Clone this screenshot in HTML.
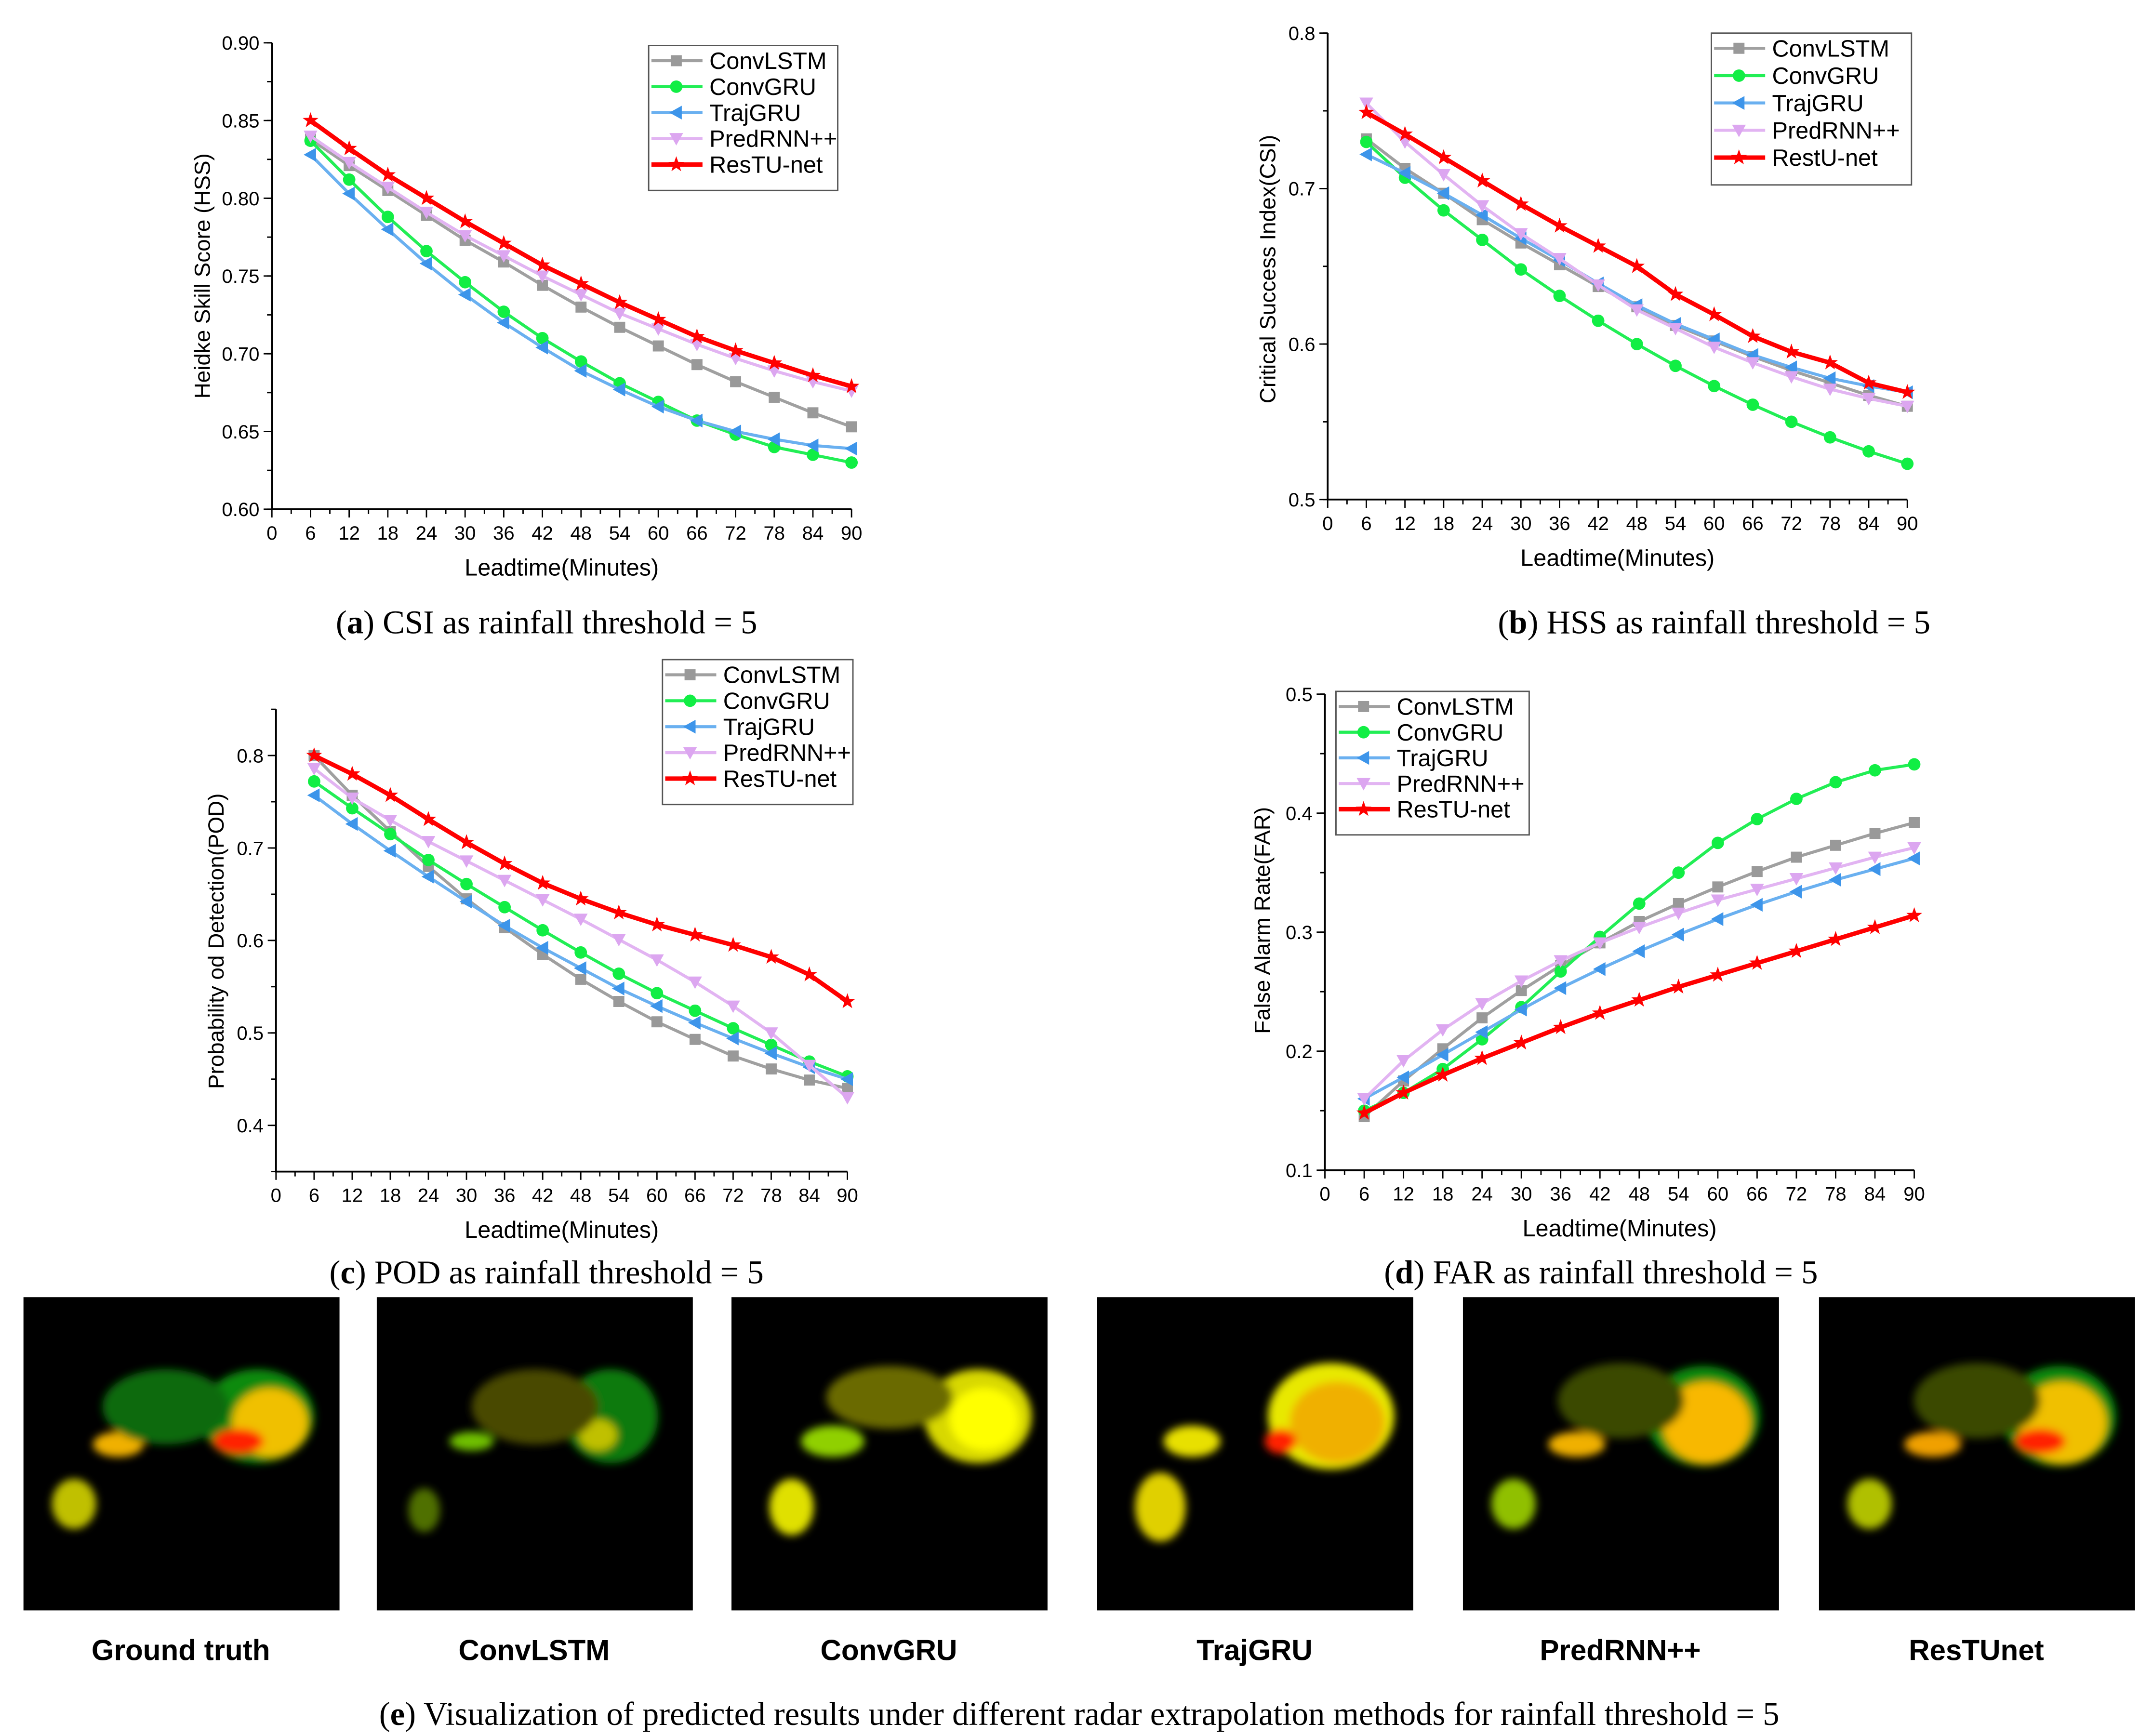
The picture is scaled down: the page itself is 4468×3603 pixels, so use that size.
<!DOCTYPE html>
<html><head><meta charset="utf-8"><style>
html,body{margin:0;padding:0;background:#fff}
svg{display:block}
</style></head><body>
<svg id="fig" width="4468" height="3603" viewBox="0 0 1560 1258" preserveAspectRatio="none" xmlns="http://www.w3.org/2000/svg">
<defs>
<filter id="blur" x="-50%" y="-50%" width="200%" height="200%"><feGaussianBlur stdDeviation="3"/></filter>
</defs>
<rect x="0" y="0" width="1560" height="1258" fill="#fff"/>
</svg>
<script>
const xMinutes=[6,12,18,24,30,36,42,48,54,60,66,72,78,84,90];
const xTickLabels=['0','6','12','18','24','30','36','42','48','54','60','66','72','78','84','90'];
const seriesNamesA=['ConvLSTM','ConvGRU','TrajGRU','PredRNN++','ResTU-net'];
const seriesNamesB=['ConvLSTM','ConvGRU','TrajGRU','PredRNN++','RestU-net'];
const hssConvLSTM=[0.838,0.821,0.805,0.789,0.773,0.759,0.744,0.730,0.717,0.705,0.693,0.682,0.672,0.662,0.653];
const hssConvGRU=[0.837,0.812,0.788,0.766,0.746,0.727,0.710,0.695,0.681,0.669,0.657,0.648,0.640,0.635,0.630];
const hssTrajGRU=[0.828,0.803,0.780,0.758,0.738,0.720,0.704,0.689,0.677,0.666,0.657,0.650,0.645,0.641,0.639];
const hssPredRNN=[0.840,0.823,0.807,0.791,0.776,0.763,0.750,0.738,0.726,0.716,0.706,0.697,0.689,0.682,0.676];
const hssResTU=[0.850,0.832,0.815,0.800,0.785,0.771,0.757,0.745,0.733,0.722,0.711,0.702,0.694,0.686,0.679];
const csiConvLSTM=[0.732,0.713,0.697,0.680,0.665,0.651,0.637,0.624,0.612,0.602,0.592,0.583,0.575,0.567,0.560];
const csiConvGRU=[0.730,0.707,0.686,0.667,0.648,0.631,0.615,0.600,0.586,0.573,0.561,0.550,0.540,0.531,0.523];
const csiTrajGRU=[0.722,0.710,0.697,0.683,0.668,0.654,0.639,0.625,0.613,0.603,0.593,0.585,0.578,0.573,0.569];
const csiPredRNN=[0.755,0.730,0.709,0.689,0.671,0.655,0.638,0.622,0.610,0.598,0.588,0.579,0.571,0.565,0.560];
const csiResTU=[0.749,0.735,0.720,0.705,0.690,0.676,0.663,0.650,0.632,0.619,0.605,0.595,0.588,0.575,0.569];
const podConvLSTM=[0.800,0.757,0.718,0.680,0.645,0.614,0.585,0.558,0.534,0.512,0.493,0.475,0.461,0.449,0.440];
const podConvGRU=[0.772,0.743,0.715,0.687,0.661,0.636,0.611,0.587,0.564,0.543,0.524,0.505,0.487,0.469,0.453];
const podTrajGRU=[0.757,0.726,0.697,0.669,0.642,0.616,0.592,0.570,0.548,0.529,0.511,0.494,0.478,0.463,0.450];
const podPredRNN=[0.786,0.754,0.730,0.707,0.686,0.665,0.644,0.623,0.601,0.579,0.555,0.529,0.500,0.465,0.430];
const podResTU=[0.800,0.780,0.757,0.731,0.706,0.683,0.662,0.645,0.630,0.617,0.606,0.595,0.582,0.563,0.534];
const farConvLSTM=[0.145,0.175,0.202,0.228,0.251,0.272,0.291,0.309,0.324,0.338,0.351,0.363,0.373,0.383,0.392];
const farConvGRU=[0.150,0.165,0.185,0.210,0.237,0.267,0.296,0.324,0.350,0.375,0.395,0.412,0.426,0.436,0.441];
const farTrajGRU=[0.160,0.178,0.197,0.216,0.235,0.253,0.269,0.284,0.298,0.311,0.323,0.334,0.344,0.353,0.362];
const farPredRNN=[0.160,0.192,0.218,0.240,0.259,0.276,0.291,0.304,0.316,0.327,0.336,0.345,0.354,0.363,0.371];
const farResTU=[0.148,0.165,0.180,0.194,0.207,0.220,0.232,0.243,0.254,0.264,0.274,0.284,0.294,0.304,0.314];
const hssTicks=['0.60','0.65','0.70','0.75','0.80','0.85','0.90'];
const csiTicks=['0.5','0.6','0.7','0.8'];
const podTicks=['0.4','0.5','0.6','0.7','0.8'];
const farTicks=['0.1','0.2','0.3','0.4','0.5'];

const NS='http://www.w3.org/2000/svg';
const svg=document.getElementById('fig');
function mk(tag,attrs,parent){const e=document.createElementNS(NS,tag);for(const k in attrs)e.setAttribute(k,attrs[k]);(parent||svg).appendChild(e);return e;}
const NF='Liberation Sans Narrow, Liberation Sans, sans-serif';
const styles=[
 {c:'#a0a0a0',m:'#999999',mk:'square',w:2.2},
 {c:'#22ee55',m:'#11ee44',mk:'circle',w:2.2},
 {c:'#6ab0f0',m:'#3d95ea',mk:'left',w:2.2},
 {c:'#e2b4f2',m:'#dca6f0',mk:'down',w:2.2},
 {c:'#ff0000',m:'#ff0000',mk:'star',w:3.2}];
function marker(g,type,x,y,col){
 let e;
 if(type==='square')e=mk('rect',{x:x-4,y:y-4,width:8,height:8,fill:col},g);
 else if(type==='circle')e=mk('circle',{cx:x,cy:y,r:4.5,fill:col},g);
 else if(type==='left')e=mk('polygon',{points:`${x-5},${y} ${x+4},${y-5} ${x+4},${y+5}`,fill:col},g);
 else if(type==='down')e=mk('polygon',{points:`${x-5},${y-4} ${x+5},${y-4} ${x},${y+5}`,fill:col},g);
 else {let p=[];for(let i=0;i<10;i++){const r=i%2?2.4:6;const a=-Math.PI/2+i*Math.PI/5;p.push((x+r*Math.cos(a)).toFixed(2)+','+(y+r*Math.sin(a)).toFixed(2));}
  e=mk('polygon',{points:p.join(' '),fill:col},g);}
 
 
}
function chart(o){
 const g=mk('g',{});
 
 
 const xs=v=>o.x0+(v/90)*(o.x1-o.x0);
 const ys=v=>o.yb-(v-o.vmin)/(o.vmax-o.vmin)*(o.yb-o.yt);
 const ax=mk('path',{d:`M${o.x0},${o.yt} V${o.yb} H${o.x1}`,stroke:'#000','stroke-width':1.3,fill:'none'},g);
 
 
 for(let i=0;i<=30;i++){const v=i*3;const major=i%2===0;
  mk('line',{x1:xs(v),x2:xs(v),y1:o.yb,y2:o.yb+(major?6:3.5),stroke:'#000','stroke-width':1},g);}
 xTickLabels.forEach((t,i)=>{const tx=mk('text',{x:xs(i*6),y:o.yb+22,'font-size':14,'text-anchor':'middle','font-family':NF},g);tx.textContent=t;
  
  });
 // minor y ticks
 for(let v=o.t0-o.step/2;v<=o.vmax+1e-9;v+=o.step/2){if(v<o.vmin-1e-9)continue;const y=ys(v);
  mk('line',{x1:o.x0-3.5,x2:o.x0,y1:y,y2:y,stroke:'#000','stroke-width':1},g);}
 o.ticks.forEach((t,i)=>{const v=o.t0+i*o.step;const y=ys(v);
  mk('line',{x1:o.x0-6,x2:o.x0,y1:y,y2:y,stroke:'#000','stroke-width':1},g);
  const tx=mk('text',{x:o.x0-9,y:y+5,'font-size':14,'text-anchor':'end','font-family':NF},g);tx.textContent=t;
  
  
 });
 o.series.forEach((arr,si)=>{const s=styles[si];
  const sg=mk('g',{},g);
  
  
  const d=arr.map((v,i)=>(i?'L':'M')+xs(xMinutes[i]).toFixed(2)+','+ys(v).toFixed(2)).join(' ');
  mk('path',{d:d,stroke:s.c,'stroke-width':s.w,fill:'none','stroke-linejoin':'round'},sg);
  arr.forEach((v,i)=>marker(sg,s.mk,xs(xMinutes[i]),ys(v),s.m));
 });
 const L=o.leg;const lg=mk('g',{},g);
 
 
 mk('rect',{x:L.x,y:L.y,width:L.w,height:L.h,fill:'#fff',stroke:'#555','stroke-width':1},lg);
 o.names.forEach((n,i)=>{const s=styles[i];const y=L.y+11+i*(L.h-11)/5;
  const eg=mk('g',{},lg);
  
  
  mk('line',{x1:L.x+2,x2:L.x+39,y1:y,y2:y,stroke:s.c,'stroke-width':s.w},eg);
  marker(eg,s.mk,L.x+20,y,s.m);
  const t=mk('text',{x:L.x+44,y:y+6,'font-size':17,'font-family':NF},eg);t.textContent=n;});
 const yt=mk('text',{x:o.ylx,y:o.yly,'font-size':16,'text-anchor':'middle','font-family':'Liberation Sans, sans-serif',transform:`rotate(-90 ${o.ylx} ${o.yly})`},g);yt.textContent=o.ylabel;
 
 
 const xt=mk('text',{x:(o.x0+o.x1)/2,y:o.yb+48,'font-size':17,'text-anchor':'middle','font-family':NF},g);xt.textContent='Leadtime(Minutes)';
 
 
 const cp=mk('text',{x:o.cx,y:o.cy,'font-size':24,'text-anchor':'middle','font-family':'Liberation Serif, serif'},g);
 
 
 cp.innerHTML=`(<tspan font-weight="bold">${o.letter}</tspan>) ${o.caption}`;
}
chart({name:'chart-a-hss',x0:197,x1:617,yb:369,yt:31,vmin:0.60,vmax:0.90,t0:0.60,step:0.05,ticks:hssTicks,
 series:[hssConvLSTM,hssConvGRU,hssTrajGRU,hssPredRNN,hssResTU],names:seriesNamesA,
 leg:{x:470,y:33,w:137,h:105},ylabel:'Heidke Skill Score (HSS)',ylx:152,yly:200,cx:396,cy:459,letter:'a',caption:'CSI as rainfall threshold = 5'});
chart({name:'chart-b-csi',x0:962,x1:1382,yb:362,yt:24,vmin:0.5,vmax:0.8,t0:0.5,step:0.1,ticks:csiTicks,
 series:[csiConvLSTM,csiConvGRU,csiTrajGRU,csiPredRNN,csiResTU],names:seriesNamesB,
 leg:{x:1240,y:24,w:145,h:110},ylabel:'Critical Success Index(CSI)',ylx:924,yly:195,cx:1242,cy:459,letter:'b',caption:'HSS as rainfall threshold = 5'});
chart({name:'chart-c-pod',x0:200,x1:614,yb:849,yt:514,vmin:0.35,vmax:0.85,t0:0.4,step:0.1,ticks:podTicks,
 series:[podConvLSTM,podConvGRU,podTrajGRU,podPredRNN,podResTU],names:seriesNamesA,
 leg:{x:480,y:478,w:138,h:105},ylabel:'Probability od Detection(POD)',ylx:162,yly:682,cx:396,cy:930,letter:'c',caption:'POD as rainfall threshold = 5'});
chart({name:'chart-d-far',x0:960,x1:1387,yb:848,yt:503,vmin:0.1,vmax:0.5,t0:0.1,step:0.1,ticks:farTicks,
 series:[farConvLSTM,farConvGRU,farTrajGRU,farPredRNN,farResTU],names:seriesNamesA,
 leg:{x:968,y:501,w:140,h:104},ylabel:'False Alarm Rate(FAR)',ylx:920,yly:667,cx:1160,cy:930,letter:'d',caption:'FAR as rainfall threshold = 5'});

const panelX=[17,273,530,795,1060,1318];
const panelLabels=['Ground truth','ConvLSTM','ConvGRU','TrajGRU','PredRNN++','ResTUnet'];
const blobs=[
 [[0.74,0.38,0.18,0.15,'#0a8a10'],[0.78,0.4,0.12,0.11,'#f0c000'],[0.68,0.46,0.08,0.04,'#ff2200'],[0.3,0.47,0.08,0.04,'#f0b000'],[0.16,0.66,0.07,0.08,'#c0c000'],[0.45,0.35,0.2,0.12,'#0a6a10']],
 [[0.74,0.38,0.15,0.15,'#0a7a10'],[0.7,0.44,0.06,0.05,'#c0c000'],[0.3,0.46,0.07,0.03,'#70c000'],[0.15,0.68,0.05,0.07,'#507000'],[0.5,0.35,0.2,0.12,'#4a4a00']],
 [[0.78,0.38,0.17,0.15,'#d8d800'],[0.8,0.39,0.11,0.1,'#ffff00'],[0.32,0.46,0.1,0.05,'#90d000'],[0.19,0.67,0.07,0.09,'#e0e000'],[0.5,0.32,0.2,0.1,'#6a6a00']],
 [[0.74,0.38,0.2,0.17,'#e8e800'],[0.76,0.4,0.15,0.13,'#f0b000'],[0.58,0.46,0.05,0.04,'#ff2200'],[0.3,0.46,0.09,0.05,'#e8e000'],[0.2,0.67,0.08,0.11,'#e0d000']],
 [[0.76,0.38,0.18,0.16,'#0a8a10'],[0.77,0.4,0.14,0.13,'#f8b800'],[0.36,0.47,0.09,0.04,'#f0b000'],[0.16,0.66,0.07,0.08,'#90c000'],[0.5,0.33,0.2,0.12,'#3a4a00']],
 [[0.76,0.38,0.18,0.16,'#0a8a10'],[0.77,0.4,0.14,0.13,'#f0c000'],[0.7,0.46,0.08,0.04,'#ff2200'],[0.36,0.47,0.09,0.04,'#f0a000'],[0.16,0.66,0.07,0.08,'#b0c000'],[0.5,0.33,0.2,0.12,'#3a4a00']]];
panelX.forEach((px,i)=>{
 const g=mk('g',{});
 
 
 mk('rect',{x:px,y:940,width:229,height:227,fill:'#000'},g);
 const bg=mk('g',{filter:'url(#blur)'},g);
 blobs[i].forEach(b=>mk('ellipse',{cx:px+b[0]*229,cy:940+b[1]*227,rx:b[2]*229,ry:b[3]*227,fill:b[4]},bg));
 const t=mk('text',{x:px+114,y:1203,'font-size':21,'font-weight':'bold','text-anchor':'middle','font-family':'Liberation Sans, sans-serif'});
 t.textContent=panelLabels[i];
 
 
});
const ce=mk('text',{x:782,y:1250,'font-size':24,'text-anchor':'middle','font-family':'Liberation Serif, serif'});


ce.innerHTML='(<tspan font-weight="bold">e</tspan>) Visualization of predicted results under different radar extrapolation methods for rainfall threshold = 5';
</script>
</body></html>
